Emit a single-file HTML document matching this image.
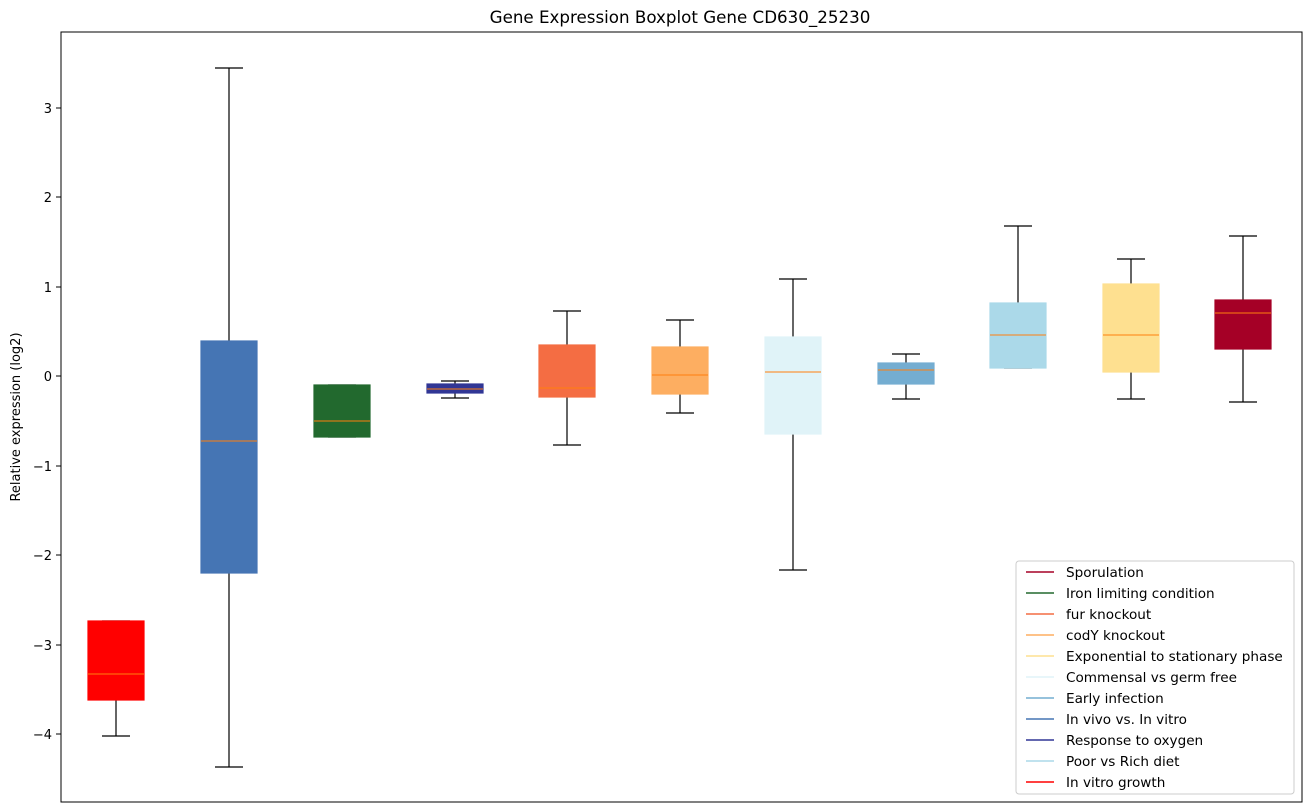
<!DOCTYPE html>
<html><head><meta charset="utf-8"><style>body{margin:0;background:#fff}svg{display:block;font-family:"DejaVu Sans","Liberation Sans",sans-serif}</style></head><body>
<svg width="1309" height="812" viewBox="0 0 1309 812" xmlns="http://www.w3.org/2000/svg">
<text x="680" y="23" font-size="16.7" text-anchor="middle">Gene Expression Boxplot Gene CD630_25230</text>
<text transform="translate(20,417) rotate(-90)" font-size="13" text-anchor="middle">Relative expression (log2)</text>
<g font-size="13" text-anchor="end">
<line x1="56" x2="61" y1="108" y2="108" stroke="#000"/><text x="52" y="113">3</text>
<line x1="56" x2="61" y1="197" y2="197" stroke="#000"/><text x="52" y="202">2</text>
<line x1="56" x2="61" y1="287" y2="287" stroke="#000"/><text x="52" y="292">1</text>
<line x1="56" x2="61" y1="376" y2="376" stroke="#000"/><text x="52" y="381">0</text>
<line x1="56" x2="61" y1="466" y2="466" stroke="#000"/><text x="52" y="471">−1</text>
<line x1="56" x2="61" y1="555" y2="555" stroke="#000"/><text x="52" y="560">−2</text>
<line x1="56" x2="61" y1="645" y2="645" stroke="#000"/><text x="52" y="650">−3</text>
<line x1="56" x2="61" y1="734" y2="734" stroke="#000"/><text x="52" y="739">−4</text>
</g>
<g stroke="#000" stroke-width="1.2" fill="none">
<line x1="116" x2="116" y1="700" y2="736"/><line x1="102" x2="130" y1="621" y2="621"/><line x1="102" x2="130" y1="736" y2="736"/>
<rect x="88" y="621" width="56" height="79" fill="#ff0000" stroke="#ff0000"/><line x1="88" x2="144" y1="674" y2="674" stroke="#ff7f0e" stroke-width="1"/>
<line x1="229" x2="229" y1="68" y2="341"/><line x1="229" x2="229" y1="573" y2="767"/><line x1="215" x2="243" y1="68" y2="68"/><line x1="215" x2="243" y1="767" y2="767"/>
<rect x="201" y="341" width="56" height="232" fill="#4575b4" stroke="#4575b4"/><line x1="201" x2="257" y1="441" y2="441" stroke="#ff7f0e" stroke-width="1"/>
<line x1="328" x2="356" y1="385" y2="385"/><line x1="328" x2="356" y1="437" y2="437"/>
<rect x="314" y="385" width="56" height="52" fill="#22692e" stroke="#22692e"/><line x1="314" x2="370" y1="421" y2="421" stroke="#ff7f0e" stroke-width="1"/>
<line x1="455" x2="455" y1="381" y2="398"/><line x1="441" x2="469" y1="381" y2="381"/><line x1="441" x2="469" y1="398" y2="398"/>
<rect x="427" y="384" width="56" height="9" fill="#313695" stroke="#313695"/><line x1="427" x2="483" y1="389" y2="389" stroke="#ff7f0e" stroke-width="1"/>
<line x1="567" x2="567" y1="311" y2="345"/><line x1="567" x2="567" y1="397" y2="445"/><line x1="553" x2="581" y1="311" y2="311"/><line x1="553" x2="581" y1="445" y2="445"/>
<rect x="539" y="345" width="56" height="52" fill="#f46d43" stroke="#f46d43"/><line x1="539" x2="595" y1="388" y2="388" stroke="#ff7f0e" stroke-width="1"/>
<line x1="680" x2="680" y1="320" y2="347"/><line x1="680" x2="680" y1="394" y2="413"/><line x1="666" x2="694" y1="320" y2="320"/><line x1="666" x2="694" y1="413" y2="413"/>
<rect x="652" y="347" width="56" height="47" fill="#fdae61" stroke="#fdae61"/><line x1="652" x2="708" y1="375" y2="375" stroke="#ff7f0e" stroke-width="1"/>
<line x1="793" x2="793" y1="279" y2="337"/><line x1="793" x2="793" y1="434" y2="570"/><line x1="779" x2="807" y1="279" y2="279"/><line x1="779" x2="807" y1="570" y2="570"/>
<rect x="765" y="337" width="56" height="97" fill="#e0f3f8" stroke="#e0f3f8"/><line x1="765" x2="821" y1="372" y2="372" stroke="#ff7f0e" stroke-width="1"/>
<line x1="906" x2="906" y1="354" y2="399"/><line x1="892" x2="920" y1="354" y2="354"/><line x1="892" x2="920" y1="399" y2="399"/>
<rect x="878" y="363" width="56" height="21" fill="#74add1" stroke="#74add1"/><line x1="878" x2="934" y1="370" y2="370" stroke="#ff7f0e" stroke-width="1"/>
<line x1="1018" x2="1018" y1="226" y2="303"/><line x1="1004" x2="1032" y1="226" y2="226"/><line x1="1004" x2="1032" y1="368" y2="368"/>
<rect x="990" y="303" width="56" height="65" fill="#abd9e9" stroke="#abd9e9"/><line x1="990" x2="1046" y1="335" y2="335" stroke="#ff7f0e" stroke-width="1"/>
<line x1="1131" x2="1131" y1="259" y2="284"/><line x1="1131" x2="1131" y1="372" y2="399"/><line x1="1117" x2="1145" y1="259" y2="259"/><line x1="1117" x2="1145" y1="399" y2="399"/>
<rect x="1103" y="284" width="56" height="88" fill="#fee090" stroke="#fee090"/><line x1="1103" x2="1159" y1="335" y2="335" stroke="#ff7f0e" stroke-width="1"/>
<line x1="1243" x2="1243" y1="236" y2="300"/><line x1="1243" x2="1243" y1="349" y2="402"/><line x1="1229" x2="1257" y1="236" y2="236"/><line x1="1229" x2="1257" y1="402" y2="402"/>
<rect x="1215" y="300" width="56" height="49" fill="#a50026" stroke="#a50026"/><line x1="1215" x2="1271" y1="313" y2="313" stroke="#ff7f0e" stroke-width="1"/>
</g>
<rect x="61" y="32" width="1241" height="770" fill="none" stroke="#000" stroke-width="1"/>
<rect x="1016" y="561" width="278" height="233" rx="3" fill="#fff" fill-opacity="0.8" stroke="#ccc"/>
<g font-size="13.6" stroke-width="1.5">
<line x1="1026" x2="1054" y1="572" y2="572" stroke="#a50026"/><text x="1066" y="577">Sporulation</text>
<line x1="1026" x2="1054" y1="593" y2="593" stroke="#22692e"/><text x="1066" y="598">Iron limiting condition</text>
<line x1="1026" x2="1054" y1="614" y2="614" stroke="#f46d43"/><text x="1066" y="619">fur knockout</text>
<line x1="1026" x2="1054" y1="635" y2="635" stroke="#fdae61"/><text x="1066" y="640">codY knockout</text>
<line x1="1026" x2="1054" y1="656" y2="656" stroke="#fee090"/><text x="1066" y="661">Exponential to stationary phase</text>
<line x1="1026" x2="1054" y1="677" y2="677" stroke="#e0f3f8"/><text x="1066" y="682">Commensal vs germ free</text>
<line x1="1026" x2="1054" y1="698" y2="698" stroke="#74add1"/><text x="1066" y="703">Early infection</text>
<line x1="1026" x2="1054" y1="719" y2="719" stroke="#4575b4"/><text x="1066" y="724">In vivo vs. In vitro</text>
<line x1="1026" x2="1054" y1="740" y2="740" stroke="#313695"/><text x="1066" y="745">Response to oxygen</text>
<line x1="1026" x2="1054" y1="761" y2="761" stroke="#abd9e9"/><text x="1066" y="766">Poor vs Rich diet</text>
<line x1="1026" x2="1054" y1="782" y2="782" stroke="#ff0000"/><text x="1066" y="787">In vitro growth</text>
</g>
</svg>
</body></html>
